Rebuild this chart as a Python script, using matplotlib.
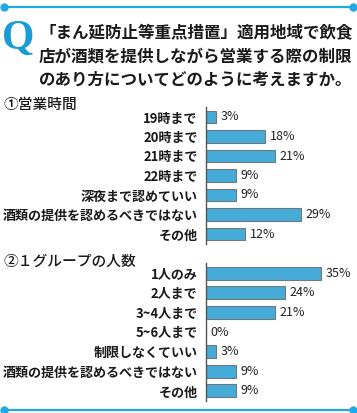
import matplotlib
matplotlib.use('Agg')
import matplotlib.pyplot as plt
from matplotlib.lines import Line2D

plt.rcParams['font.family'] = ['Noto Sans CJK JP', 'DejaVu Sans']

W, H = 357, 413

title_lines = ['「まん延防止等重点措置」適用地域で飲食',
               '店が酒類を提供しながら営業する際の制限',
               'のあり方についてどのように考えますか。']

sec1_title = '①営業時間'
sec1_labels = ['19時まで', '20時まで', '21時まで', '22時まで',
               '深夜まで認めていい', '酒類の提供を認めるべきではない', 'その他']
sec1_values = [3, 18, 21, 9, 9, 29, 12]

sec2_title = '②１グループの人数'
sec2_labels = ['1人のみ', '2人まで', '3~4人まで', '5~6人まで',
               '制限しなくていい', '酒類の提供を認めるべきではない', 'その他']
sec2_values = [35, 24, 21, 0, 3, 9, 9]

BAR_COLOR = '#46abd6'
EDGE_COLOR = '#6f7a80'
LINE_BLUE = '#22a8e2'
Q_BLUE = '#1b9ad8'

fig = plt.figure(figsize=(W / 100, H / 100), dpi=100)
fig.patch.set_facecolor('white')


def px_axes(x0, y0, x1, y1):
    # pixel box (top-left origin) -> figure axes
    return fig.add_axes([x0 / W, 1 - y1 / H, (x1 - x0) / W, (y1 - y0) / H])


def draw_panel(ax, labels, values):
    ypos = list(range(len(labels)))
    ax.barh(ypos, values, height=0.66, color=BAR_COLOR,
            edgecolor=EDGE_COLOR, linewidth=0.8)
    for y, v in zip(ypos, values):
        ax.text(v + 1.4, y, f'{v}%', va='center', ha='left',
                fontsize=9, color='#222222')
    ax.set_xlim(0, 40)
    ax.set_ylim(len(labels) - 0.5, -0.5)
    ax.set_yticks(ypos)
    ax.set_yticklabels(labels, fontsize=9.4, fontweight='bold', color='#1a1a1a')
    ax.tick_params(axis='y', length=0, pad=6)
    ax.set_xticks([])
    for s in ['top', 'right', 'bottom']:
        ax.spines[s].set_visible(False)
    ax.spines['left'].set_color('#555555')
    ax.spines['left'].set_linewidth(1.0)
    ax.patch.set_alpha(0)


ax1 = px_axes(206, 107.25, 337.2, 243.75)
draw_panel(ax1, sec1_labels, sec1_values)

ax2 = px_axes(206, 263.2, 337.2, 400.8)
draw_panel(ax2, sec2_labels, sec2_values)

# decorative frame lines with end dots
for y in (7, 410):
    yf = 1 - y / H
    fig.add_artist(Line2D([4 / W, 353 / W], [yf, yf], color=LINE_BLUE,
                          linewidth=1.6, transform=fig.transFigure))
    fig.add_artist(Line2D([4 / W, 353 / W], [yf, yf], color=LINE_BLUE,
                          linestyle='none', marker='o', markersize=5,
                          transform=fig.transFigure))

# big Q
fig.text(2 / W, 1 - 49 / H, 'Q', fontsize=30, fontweight='bold',
         family='Liberation Serif', color=Q_BLUE, ha='left', va='baseline')

# question text
for i, line in enumerate(title_lines):
    fig.text(39 / W, 1 - (33 + i * 23.5) / H, line, fontsize=11.9,
             fontweight='bold', color='#1a1a1a', ha='left', va='center')

fig.text(3 / W, 1 - 105 / H, sec1_title, fontsize=10.6, fontweight='medium',
         color='#1a1a1a', ha='left', va='center')
fig.text(3 / W, 1 - 262 / H, sec2_title, fontsize=10.6, fontweight='medium',
         color='#1a1a1a', ha='left', va='center')

fig.savefig('out.png', dpi=100, facecolor='white')
